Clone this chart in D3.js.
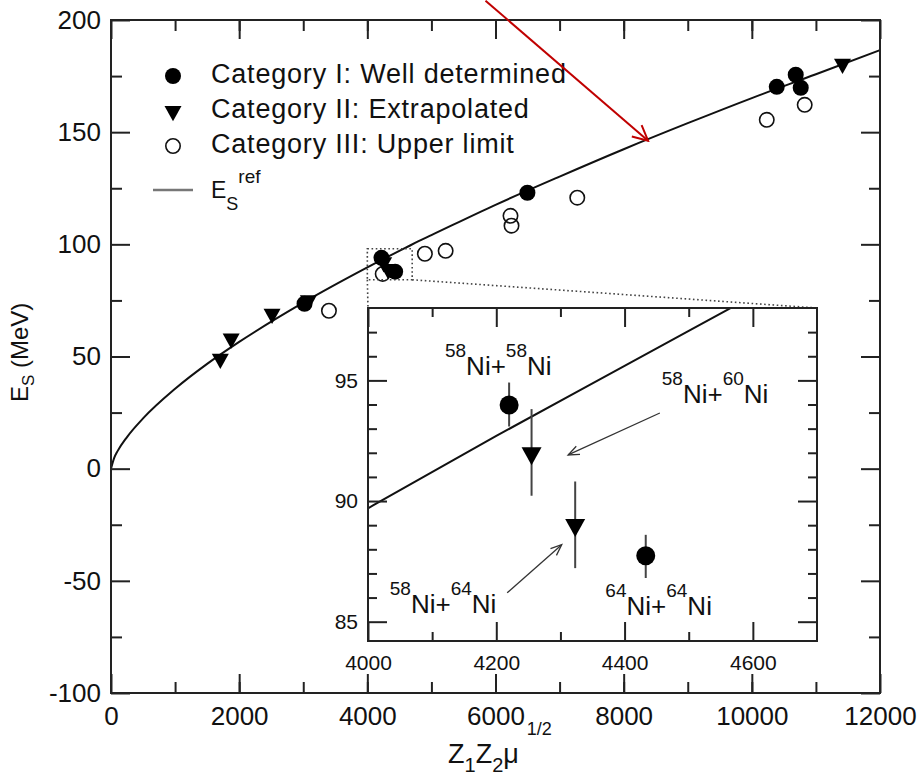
<!DOCTYPE html>
<html>
<head>
<meta charset="utf-8">
<script src="https://cdn.jsdelivr.net/npm/d3@7"></script>
<style>
  body { margin: 0; background: #fff; }
  svg text { font-family: "Liberation Sans", Arial, Helvetica, sans-serif; fill: #111; }
</style>
</head>
<body>
<svg id="chart" width="923" height="779"></svg>
<script>
// Category I: well determined
const catIx = [3020, 4221, 4434, 6498, 10389, 10685, 10763];
const catIy = [73.5, 94.0, 87.8, 123.0, 170.2, 175.6, 169.8];
// Category II: extrapolated
const catIIx = [1706, 1875, 2513, 3080, 4255, 4323, 11415];
const catIIy = [49.0, 58.0, 69.0, 75.0, 92.0, 89.0, 180.5];
// Category III: upper limit
const catIIIx = [3401, 4240, 4898, 5222, 6234, 6250, 7276, 10233, 10825];
const catIIIy = [70.4, 86.8, 95.8, 97.1, 112.7, 108.3, 120.8, 155.5, 162.2];

// E_S^ref curve
const refX = [0, 50, 100, 250, 500, 1000, 1500, 2000, 3000, 4000, 4200, 4400, 4600, 4800, 5000, 6000, 7000, 8000, 9000, 10000, 11000, 12000];
const refY = [0, 4.8, 7.7, 14.1, 22.4, 35.6, 46.7, 56.5, 74.0, 89.7, 92.7, 95.6, 98.5, 101.4, 104.1, 117.6, 130.2, 142.4, 154.0, 165.2, 175.8, 186.6];

// inset: Ni + Ni systems with error bars
const niX = [4220, 4255, 4323, 4433];
const niY = [93.98, 91.98, 89.01, 87.73];
const niLo = [93.09, 90.22, 87.22, 86.81];
const niHi = [94.91, 93.81, 90.81, 88.60];
const niCat = ['I', 'II', 'II', 'I'];

const legendLabels = ['Category I: Well determined', 'Category II: Extrapolated', 'Category III: Upper limit'];

const mainXTicks = [0, 2000, 4000, 6000, 8000, 10000, 12000];
const mainYTicks = [-100, -50, 0, 50, 100, 150, 200];
const insetXTicks = [4000, 4200, 4400, 4600];
const insetYTicks = [85, 90, 95];

const svg = d3.select('#chart');
const ink = '#222';

// main scales
const x = d3.scaleLinear([0, 12000], [111, 880]);
const y = d3.scaleLinear([-100, 200], [693, 20]);

// inset scales
const ix = d3.scaleLinear([4000, 4700], [368, 817]);
const iy = d3.scaleLinear([84.2, 98], [641, 308]);

// --- helpers ---
// text with sub/superscripts; each part sits at baseline py + shift
function richText(g, px, py, parts) {
    const t = g.append('text').attr('x', px).attr('y', py);
    parts.forEach(p => {
        const s = t.append('tspan')
            .attr('y', py + (p.shift || 0))
            .style('font-size', p.size + 'px')
            .text(p.t);
        if (p.dx) s.attr('dx', p.dx);
    });
    return t;
}

function triPath(cx, cy, w) {
    const h = w * 0.9;
    return `M${cx - w / 2},${cy - h / 3}L${cx + w / 2},${cy - h / 3}L${cx},${cy + 2 * h / 3}Z`;
}

function drawMarker(g, cat, cx, cy, size) {
    if (cat === 'I') {
        g.append('circle').attr('cx', cx).attr('cy', cy).attr('r', size / 2).attr('fill', '#000');
    } else if (cat === 'II') {
        g.append('path').attr('d', triPath(cx, cy, size + 1)).attr('fill', '#000');
    } else {
        g.append('circle').attr('cx', cx).attr('cy', cy).attr('r', size / 2 - 0.8)
            .attr('fill', 'none').attr('stroke', '#111').attr('stroke-width', 1.6);
    }
}

function styleAxis(g) {
    g.select('.domain').remove();
    g.selectAll('.tick line').attr('stroke', ink).attr('stroke-width', 2);
}

const plain = d => String(d);

function frame(g, xs, ys, major, minor, xTicks, xMinor, yTicks, yMinor, fontSize, pad) {
    const [x0, x1] = xs.range();
    const [y0, y1] = ys.range();
    [['b', y0], ['t', y1]].forEach(([side, pos]) => {
        const ax = side === 'b' ? d3.axisBottom(xs) : d3.axisTop(xs);
        g.append('g').attr('transform', `translate(0,${pos})`)
            .call(ax.tickValues(xMinor).tickSize(-minor).tickSizeOuter(0).tickFormat(''))
            .call(styleAxis);
        const axM = side === 'b' ? d3.axisBottom(xs) : d3.axisTop(xs);
        const mg = g.append('g').attr('transform', `translate(0,${pos})`)
            .call(axM.tickValues(xTicks).tickSize(-major).tickSizeOuter(0)
                .tickPadding(pad.x).tickFormat(plain))
            .call(styleAxis);
        mg.selectAll('text').style('font-size', fontSize + 'px').attr('fill', '#111');
        if (side === 't') mg.selectAll('text').remove();
    });
    [['l', x0], ['r', x1]].forEach(([side, pos]) => {
        const ax = side === 'l' ? d3.axisLeft(ys) : d3.axisRight(ys);
        g.append('g').attr('transform', `translate(${pos},0)`)
            .call(ax.tickValues(yMinor).tickSize(-minor).tickSizeOuter(0).tickFormat(''))
            .call(styleAxis);
        const axM = side === 'l' ? d3.axisLeft(ys) : d3.axisRight(ys);
        const mg = g.append('g').attr('transform', `translate(${pos},0)`)
            .call(axM.tickValues(yTicks).tickSize(-major).tickSizeOuter(0)
                .tickPadding(pad.y).tickFormat(plain))
            .call(styleAxis);
        mg.selectAll('text').style('font-size', fontSize + 'px').attr('fill', '#111');
        if (side === 'r') mg.selectAll('text').remove();
    });
    g.append('rect')
        .attr('x', x0).attr('y', y1)
        .attr('width', x1 - x0).attr('height', y0 - y1)
        .attr('fill', 'none').attr('stroke', ink).attr('stroke-width', 2);
}

// --- main panel ---
const main = svg.append('g');

const refPts = refX.map((v, i) => [v, refY[i]]);
const line = d3.line().x(d => x(d[0])).y(d => y(d[1])).curve(d3.curveMonotoneX);
main.append('path').datum(refPts)
    .attr('d', line).attr('fill', 'none').attr('stroke', '#111').attr('stroke-width', 2);

catIIIx.forEach((v, i) => drawMarker(main, 'III', x(v), y(catIIIy[i]), 16));
catIIx.forEach((v, i) => drawMarker(main, 'II', x(v), y(catIIy[i]), 16));
catIx.forEach((v, i) => drawMarker(main, 'I', x(v), y(catIy[i]), 16));

frame(main, x, y, 19, 11, mainXTicks, d3.range(1000, 12000, 1000),
    mainYTicks, d3.range(-75, 200, 50), 26, { x: 14, y: 10 });

// axis titles
richText(main, 448, 763, [
    { t: 'Z', size: 27 }, { t: '1', size: 20, shift: 9 },
    { t: 'Z', size: 27 }, { t: '2', size: 20, shift: 9 },
    { t: 'μ', size: 27 }, { t: '1/2', size: 18, shift: -28, dx: 8 }
]);

const ylab = main.append('g').attr('transform', 'translate(28,352) rotate(-90)');
richText(ylab, -50, 0, [
    { t: 'E', size: 24 }, { t: 'S', size: 17, shift: 6 }, { t: ' (MeV)', size: 24 }
]);

// legend
const legend = main.append('g');
const legRows = [76, 111, 146];
['I', 'II', 'III'].forEach((c, i) => {
    drawMarker(legend, c, 173, legRows[i], 16);
    legend.append('text').attr('x', 211).attr('y', legRows[i] + 7)
        .style('font-size', '27px').style('letter-spacing', '0.8px').text(legendLabels[i]);
});
legend.append('line').attr('x1', 153).attr('x2', 193).attr('y1', 190).attr('y2', 190)
    .attr('stroke', '#777').attr('stroke-width', 2.5);
richText(legend, 211, 198, [
    { t: 'E', size: 23 }, { t: 'S', size: 18, shift: 12 }, { t: 'ref', size: 19, shift: -15 }
]);

// zoom box and connectors
const dotted = { stroke: '#444', 'stroke-width': 1.6, 'stroke-dasharray': '1.6,2.6', fill: 'none' };
const zb = main.append('rect')
    .attr('x', x(4000)).attr('y', y(98))
    .attr('width', x(4700) - x(4000)).attr('height', y(84.2) - y(98));
Object.entries(dotted).forEach(([k, v]) => zb.attr(k, v));
[[x(4000), y(84.2), ix(4000), iy(98)], [x(4700), y(84.2), ix(4700), iy(98)]].forEach(s => {
    const l = main.append('line').attr('x1', s[0]).attr('y1', s[1]).attr('x2', s[2]).attr('y2', s[3]);
    Object.entries(dotted).forEach(([k, v]) => l.attr(k, v));
});

// red annotation arrow
const defs = svg.append('defs');
defs.append('marker').attr('id', 'redhead')
    .attr('viewBox', '-16 -9 18 18').attr('refX', 0).attr('refY', 0)
    .attr('markerUnits', 'userSpaceOnUse').attr('markerWidth', 18).attr('markerHeight', 18)
    .attr('orient', 'auto')
    .append('path').attr('d', 'M-15,-7.5L0,0L-15,7.5')
    .attr('fill', 'none').attr('stroke', '#c00000').attr('stroke-width', 2);
main.append('line')
    .attr('x1', x(5844)).attr('y1', y(208.6)).attr('x2', x(8381)).attr('y2', y(146.2))
    .attr('stroke', '#c00000').attr('stroke-width', 2).attr('marker-end', 'url(#redhead)');

// --- inset ---
const inset = svg.append('g');
inset.append('rect').attr('x', 368).attr('y', 308).attr('width', 449).attr('height', 333).attr('fill', '#fff');

defs.append('clipPath').attr('id', 'insetClip')
    .append('rect').attr('x', 368).attr('y', 308).attr('width', 449).attr('height', 333);

const iline = d3.line().x(d => ix(d[0])).y(d => iy(d[1])).curve(d3.curveMonotoneX);
inset.append('path').datum(refPts).attr('clip-path', 'url(#insetClip)')
    .attr('d', iline).attr('fill', 'none').attr('stroke', '#111').attr('stroke-width', 2);

niX.forEach((v, i) => {
    inset.append('line').attr('x1', ix(v)).attr('x2', ix(v))
        .attr('y1', iy(niLo[i])).attr('y2', iy(niHi[i]))
        .attr('stroke', '#444').attr('stroke-width', 2);
    drawMarker(inset, niCat[i], ix(v), iy(niY[i]), 19);
});

frame(inset, ix, iy, 19, 9, insetXTicks, d3.range(4100, 4700, 200),
    insetYTicks, d3.range(85, 98, 1).filter(v => v % 5 !== 0), 21, { x: 14, y: 10 });

// isotope labels
const labs = [
    { a: '58', b: '58', x: 4120, y: 95.23 },
    { a: '58', b: '60', x: 4458, y: 94.07 },
    { a: '58', b: '64', x: 4034, y: 85.37 },
    { a: '64', b: '64', x: 4370, y: 85.29 }
];
labs.forEach(d => {
    richText(inset, ix(d.x), iy(d.y), [
        { t: d.a, size: 19, shift: -18 }, { t: 'Ni+', size: 26 },
        { t: d.b, size: 19, shift: -18 }, { t: 'Ni', size: 26 }
    ]);
});

defs.append('marker').attr('id', 'greyhead')
    .attr('viewBox', '-12 -6 14 12').attr('refX', 0).attr('refY', 0)
    .attr('markerUnits', 'userSpaceOnUse').attr('markerWidth', 14).attr('markerHeight', 12)
    .attr('orient', 'auto')
    .append('path').attr('d', 'M-11,-4.5L0,0L-11,4.5')
    .attr('fill', 'none').attr('stroke', '#333').attr('stroke-width', 1.3);
[[4455, 93.65, 4312, 91.91], [4217, 86.20, 4302, 88.19]].forEach(a => {
    inset.append('line')
        .attr('x1', ix(a[0])).attr('y1', iy(a[1])).attr('x2', ix(a[2])).attr('y2', iy(a[3]))
        .attr('stroke', '#333').attr('stroke-width', 1.3).attr('marker-end', 'url(#greyhead)');
});
</script>
</body>
</html>
